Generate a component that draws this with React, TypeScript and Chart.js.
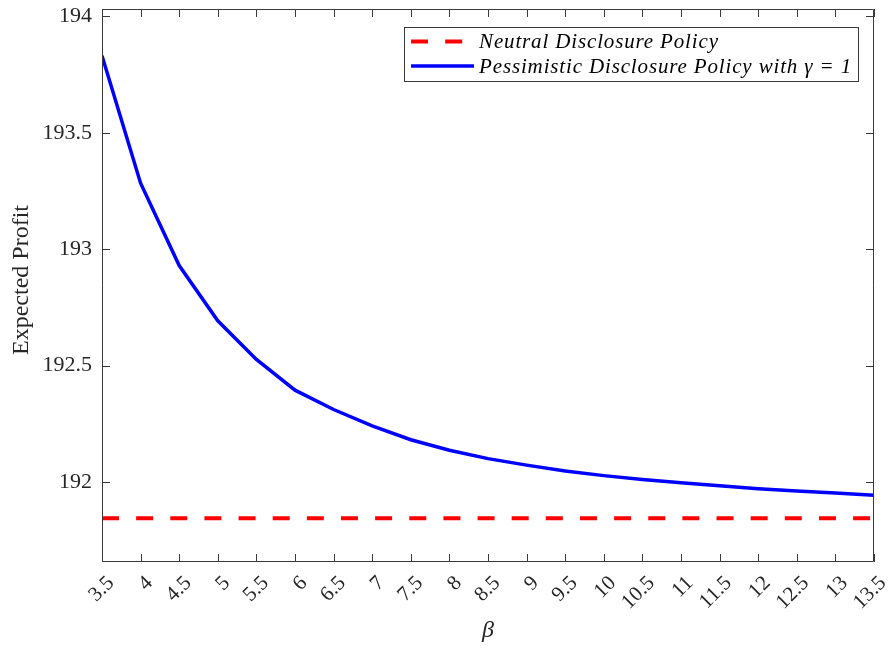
import React, { useEffect, useRef } from 'react';
import { Chart, registerables } from 'chart.js';

Chart.register(...registerables);

// ---- data ----
const betaValues = [3.5, 4, 4.5, 5, 5.5, 6, 6.5, 7, 7.5, 8, 8.5, 9, 9.5, 10, 10.5, 11, 11.5, 12, 12.5, 13, 13.5];
const pessimisticProfit = [193.831, 193.284, 192.930, 192.693, 192.527, 192.395, 192.312, 192.242, 192.182, 192.137, 192.101, 192.073, 192.048, 192.028, 192.011, 191.997, 191.984, 191.972, 191.962, 191.953, 191.944];
const neutralProfit = [191.845, 191.845, 191.845, 191.845, 191.845, 191.845, 191.845, 191.845, 191.845, 191.845, 191.845, 191.845, 191.845, 191.845, 191.845, 191.845, 191.845, 191.845, 191.845, 191.845, 191.845];
const xTickValues = [3.5, 4, 4.5, 5, 5.5, 6, 6.5, 7, 7.5, 8, 8.5, 9, 9.5, 10, 10.5, 11, 11.5, 12, 12.5, 13, 13.5];
const yTickValues = [192, 192.5, 193, 193.5, 194];
const seriesLabels = ['Neutral Disclosure Policy', 'Pessimistic Disclosure Policy with γ = 1'];
const xAxisTitle = 'β';
const yAxisTitle = 'Expected Profit';
const xRange = [3.5, 13.5];
const yRange = [191.657, 194.032];

const SERIF = '"Liberation Serif", "DejaVu Serif", serif';
const AXIS_COLOR = '#3a3a3a';

const boxAndTicksPlugin = {
  id: 'boxAndTicks',
  afterDraw(chart: any) {
    const { ctx, chartArea } = chart;
    const { left, right, top, bottom } = chartArea;
    const xs = chart.scales.x;
    const ys = chart.scales.y;
    const len = 8;
    ctx.save();
    ctx.strokeStyle = AXIS_COLOR;
    ctx.lineWidth = 1;
    ctx.beginPath();
    ctx.rect(left + 0.5, top + 0.5, right - left - 1, bottom - top - 1);
    ctx.stroke();
    ctx.beginPath();
    xs.ticks.forEach((t: any) => {
      const px = Math.round(xs.getPixelForValue(t.value)) + 0.5;
      ctx.moveTo(px, bottom);
      ctx.lineTo(px, bottom - len);
      ctx.moveTo(px, top);
      ctx.lineTo(px, top + len);
    });
    ys.ticks.forEach((t: any) => {
      const py = Math.round(ys.getPixelForValue(t.value)) + 0.5;
      ctx.moveTo(left, py);
      ctx.lineTo(left + len, py);
      ctx.moveTo(right, py);
      ctx.lineTo(right - len, py);
    });
    ctx.stroke();

    // axis titles
    ctx.fillStyle = '#262626';
    ctx.font = 'italic 24px ' + SERIF;
    ctx.textAlign = 'center';
    ctx.textBaseline = 'alphabetic';
    ctx.fillText(xAxisTitle, (left + right) / 2, bottom + 75);
    ctx.save();
    ctx.translate(28, 280);
    ctx.rotate(-Math.PI / 2);
    ctx.font = '24px ' + SERIF;
    ctx.fillText(yAxisTitle, 0, 0);
    ctx.restore();
    ctx.restore();
  },
};

const boxedLegendPlugin = {
  id: 'boxedLegend',
  afterDraw(chart: any) {
    const { ctx, chartArea } = chart;
    const datasets = chart.data.datasets;
    const boxRight = chartArea.right - 16;
    const boxTop = chartArea.top + 18;
    const rowH = 24.5;
    const pad = 7;
    const sampleW = 63;
    const gap = 5;
    ctx.save();
    ctx.font = 'italic 21px ' + SERIF;
    (ctx as any).letterSpacing = '0.85px';
    let maxW = 0;
    datasets.forEach((d: any) => {
      maxW = Math.max(maxW, ctx.measureText(d.label).width);
    });
    const boxW = pad + sampleW + gap + maxW + 6;
    const boxH = datasets.length * rowH + 5;
    const boxLeft = boxRight - boxW;
    ctx.fillStyle = '#ffffff';
    ctx.fillRect(boxLeft, boxTop, boxW, boxH);
    ctx.strokeStyle = AXIS_COLOR;
    ctx.lineWidth = 1;
    ctx.strokeRect(Math.round(boxLeft) + 0.5, Math.round(boxTop) + 0.5, Math.round(boxW), Math.round(boxH));
    datasets.forEach((d: any, i: number) => {
      const cy = boxTop + 14.5 + i * rowH;
      ctx.save();
      ctx.strokeStyle = d.borderColor;
      ctx.lineWidth = d.borderWidth;
      ctx.setLineDash(d.borderDash || []);
      ctx.beginPath();
      ctx.moveTo(boxLeft + pad, cy);
      ctx.lineTo(boxLeft + pad + sampleW, cy);
      ctx.stroke();
      ctx.restore();
      ctx.fillStyle = '#000000';
      ctx.textAlign = 'left';
      ctx.textBaseline = 'middle';
      ctx.fillText(d.label, boxLeft + pad + sampleW + gap, cy + 1);
    });
    ctx.restore();
  },
};

export default function App() {
  const canvasRef = useRef<HTMLCanvasElement | null>(null);

  useEffect(() => {
    document.body.style.margin = '0';
    const canvas = canvasRef.current;
    if (!canvas) return;
    const chart = new Chart(canvas, {
      type: 'line',
      data: {
        datasets: [
          {
            label: seriesLabels[0],
            data: betaValues.map((b, i) => ({ x: b, y: neutralProfit[i] })),
            borderColor: '#ff0000',
            borderWidth: 4,
            borderDash: [17, 17.14],
            borderCapStyle: 'butt',
            pointRadius: 0,
            tension: 0,
          },
          {
            label: seriesLabels[1],
            data: betaValues.map((b, i) => ({ x: b, y: pessimisticProfit[i] })),
            borderColor: '#0000ff',
            borderWidth: 3.5,
            pointRadius: 0,
            tension: 0,
          },
        ],
      },
      options: {
        animation: false,
        responsive: false,
        maintainAspectRatio: false,
        layout: { padding: { left: 0, right: 17, top: 9, bottom: 0 } },
        plugins: {
          legend: { display: false },
          tooltip: { enabled: false },
        },
        scales: {
          x: {
            type: 'linear',
            min: xRange[0],
            max: xRange[1],
            grid: { display: false, drawTicks: false, tickLength: 0 },
            border: { display: false },
            afterBuildTicks: (scale: any) => {
              scale.ticks = xTickValues.map((v) => ({ value: v }));
            },
            afterFit: (scale: any) => {
              scale.height = 88;
              scale.paddingLeft = 0;
              scale.paddingRight = 0;
            },
            ticks: {
              autoSkip: false,
              minRotation: 45,
              maxRotation: 45,
              padding: 9,
              labelOffset: 9,
              color: '#262626',
              font: { family: SERIF, size: 21 },
              callback: (v: any) => String(v),
            },
          },
          y: {
            type: 'linear',
            min: yRange[0],
            max: yRange[1],
            grid: { display: false, drawTicks: false, tickLength: 0 },
            border: { display: false },
            afterBuildTicks: (scale: any) => {
              scale.ticks = yTickValues.map((v) => ({ value: v }));
            },
            afterFit: (scale: any) => {
              scale.width = 102;
              scale.paddingTop = 0;
              scale.paddingBottom = 0;
            },
            ticks: {
              padding: 10,
              color: '#262626',
              font: { family: SERIF, size: 22 },
              callback: (v: any) => String(v),
            },
          },
        },
      } as any,
      plugins: [boxAndTicksPlugin, boxedLegendPlugin],
    });
    return () => chart.destroy();
  }, []);

  return (
    <div style={{ width: 891, height: 650, background: '#ffffff' }}>
      <canvas ref={canvasRef} width={891} height={650} style={{ display: 'block' }} />
    </div>
  );
}
